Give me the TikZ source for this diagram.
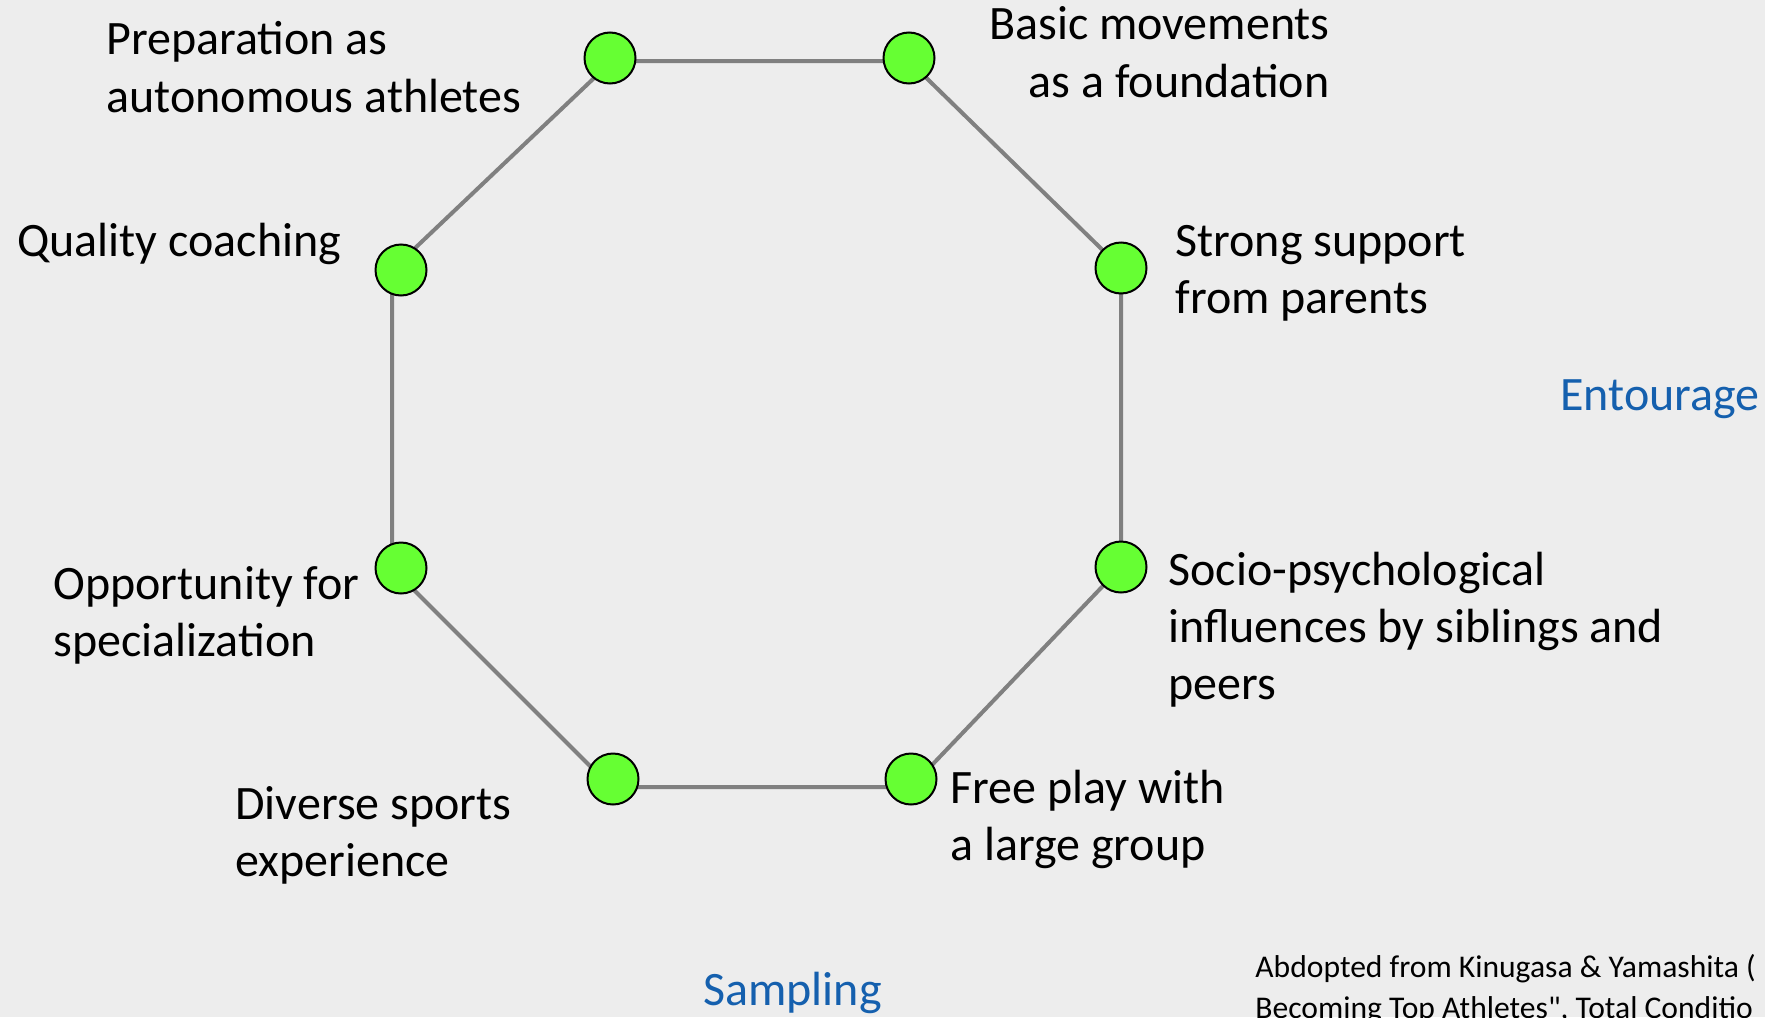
\documentclass[tikz,border=0pt]{standalone}
\usepackage{fontspec}
\setmainfont{Carlito}[Ligatures=TeXOff]
\usetikzlibrary{positioning,backgrounds}

\definecolor{bggray}{HTML}{EDEDED}
\definecolor{ballgreen}{HTML}{66FF33}
\definecolor{linegray}{HTML}{808080}
\definecolor{phaseblue}{HTML}{1560AE}

\pgfdeclarelayer{canvas}
\pgfsetlayers{canvas,background,main}

\tikzstyle{ball} = [circle, draw=black, line width=1pt, fill=ballgreen, minimum size=25.5pt, inner sep=0pt]
\tikzstyle{txt} = [inner sep=0pt, align=left, font=\fontsize{24}{28.5}\selectfont]
\tikzstyle{phase} = [inner sep=0pt, text=phaseblue, font=\fontsize{24}{28.5}\selectfont]
\tikzstyle{conn} = [draw=linegray, line width=2pt]

\begin{document}
\begin{tikzpicture}[x=0.5pt, y=-0.5pt]
\begin{pgfonlayer}{canvas}
\fill[bggray] (0,0) rectangle (1765,1017);
\end{pgfonlayer}
\useasboundingbox (0,0) rectangle (1765,1017);

% the eight factors
\node[ball] (bprep) at (610,58) {};
\node[ball] (bbasic) at (909,58) {};
\node[ball] (bstrong) at (1121,268) {};
\node[ball] (bsocio) at (1121,567) {};
\node[ball] (bfree) at (911,779) {};
\node[ball] (bdiverse) at (613,779) {};
\node[ball] (bopport) at (401,568) {};
\node[ball] (bquality) at (401,270) {};

\begin{pgfonlayer}{background}
\draw[conn] ([shift={(2,3)}]bprep.center) -- ([shift={(0,3)}]bbasic.center)
	-- (bstrong.center) -- (bsocio.center) -- ([shift={(0,8)}]bfree.center)
	-- ([shift={(-2,8)}]bdiverse.center) -- ([shift={(-9,0)}]bopport.center)
	-- ([shift={(-9,0)}]bquality.center) -- cycle;
\end{pgfonlayer}

\node[txt, anchor=base west] (prep) at (106,112) {Preparation as\\autonomous athletes};
\node[txt, anchor=base east, align=right] (basic) at (1330,97) {Basic movements\\as a foundation};
\node[txt, anchor=base west] (quality) at (17,256) {Quality coaching};
\node[txt, anchor=base west] (strong) at (1175,313) {Strong support\\from parents};
\node[txt, anchor=base west] (opport) at (53,656) {Opportunity for\\specialization};
\node[txt, anchor=base west] (socio) at (1168,699) {Socio-psychological\\influences by siblings and\\peers};
\node[txt, anchor=base west] (diverse) at (235,876) {Diverse sports\\experience};
\node[txt, anchor=base west] (free) at (950,860) {Free play with\\a large group};

% phases
\node[phase, anchor=base west] (entourage) at (1560,410) {Entourage};
\node[phase, anchor=base west] (sampling) at (703,1005) {Sampling};

\node[inner sep=0pt, anchor=base west, align=left, font=\fontsize{15.8}{20.5}\selectfont] (source) at (1255,1018)
	{Abdopted from Kinugasa \& Yamashita (\\Becoming Top Athletes", Total Conditio};

\end{tikzpicture}
\end{document}
